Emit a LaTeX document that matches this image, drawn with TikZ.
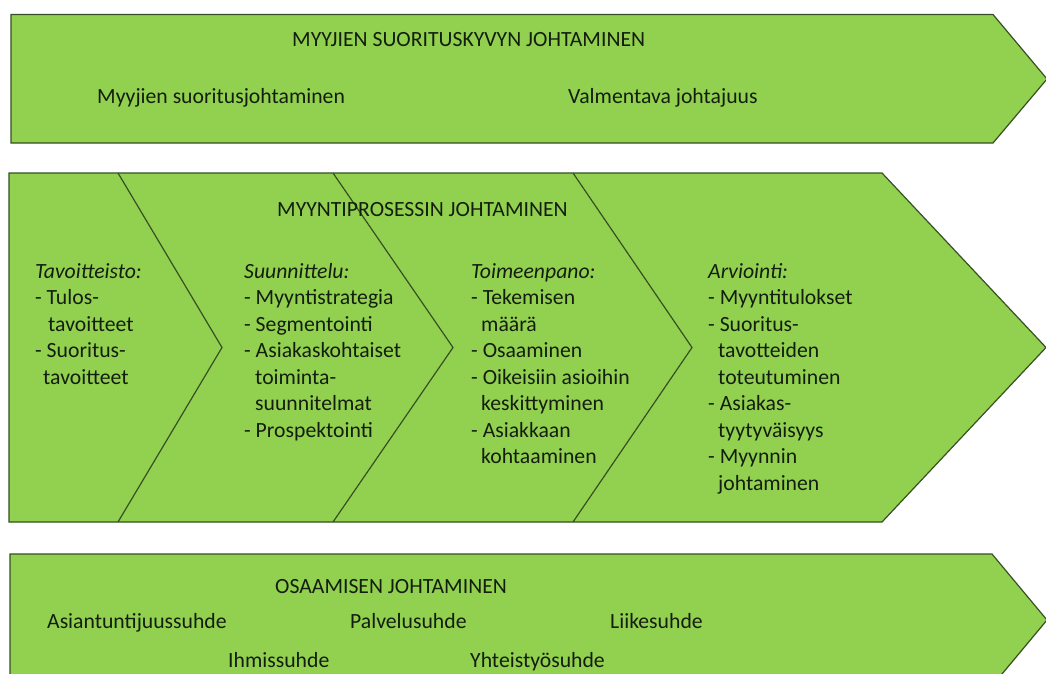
\documentclass[tikz,border=0pt]{standalone}
\usepackage{fontspec}
\setmainfont{Carlito}
\definecolor{shapegreen}{HTML}{92D050}
\definecolor{edgegreen}{RGB}{55,80,35}
\definecolor{txt}{RGB}{20,30,15}
\begin{document}
\begin{tikzpicture}[x=1pt,y=-1pt,
  band/.style={fill=shapegreen,draw=edgegreen,line width=1.2pt,line join=miter},
  divider/.style={draw=edgegreen,line width=1.2pt},
  lbl/.style={anchor=base west,inner sep=0pt,text=txt,font=\fontsize{21.7pt}{26.5pt}\selectfont},
  lst/.style={lbl,align=left}]
\useasboundingbox (0,0) rectangle (1046,674);
\clip (0,0) rectangle (1046,674);
\fill[white] (0,0) rectangle (1046,674);
% top band
\draw[band] (11,14.5) -- (993,14.5) -- (1047,79) -- (993,143) -- (11,143) -- cycle;
\node[lbl] (t1) at (292,47) {MYYJIEN SUORITUSKYVYN JOHTAMINEN};
\node[lbl] (t2) at (97,103) {Myyjien suoritusjohtaminen};
\node[lbl] (t3) at (568,103) {Valmentava johtajuus};
% middle band
\draw[band] (9,173) -- (882,173) -- (1046,347.5) -- (882,522) -- (9,522) -- cycle;
\draw[divider] (118,173) -- (222,347.5) -- (118,522);
\draw[divider] (333,173) -- (453,347.5) -- (333,522);
\draw[divider] (573,173) -- (692,347.5) -- (573,522);
\node[lbl] (m0) at (277,216) {MYYNTIPROSESSIN JOHTAMINEN};
% multi-line nodes: base anchor = baseline of the last line
\node[lst] (m1) at (35,384) {\textit{Tavoitteisto:}\\- Tulos-\\\hspace*{13pt}tavoitteet\\- Suoritus-\\\hspace*{8pt}tavoitteet};
\node[lst] (m2) at (244,437) {\textit{Suunnittelu:}\\- Myyntistrategia\\- Segmentointi\\- Asiakaskohtaiset\\\hspace*{11pt}toiminta-\\\hspace*{11pt}suunnitelmat\\- Prospektointi};
\node[lst] (m3) at (471,463.5) {\textit{Toimeenpano:}\\- Tekemisen\\\hspace*{10pt}määrä\\- Osaaminen\\- Oikeisiin asioihin\\\hspace*{10pt}keskittyminen\\- Asiakkaan\\\hspace*{10pt}kohtaaminen};
\node[lst] (m4) at (708,490) {\textit{Arviointi:}\\- Myyntitulokset\\- Suoritus-\\\hspace*{10pt}tavotteiden\\\hspace*{10pt}toteutuminen\\- Asiakas-\\\hspace*{10pt}tyytyväisyys\\- Myynnin\\\hspace*{10pt}johtaminen};
% bottom band
\draw[band] (10,554) -- (992,554) -- (1047,620) -- (992,686) -- (10,686) -- cycle;
\node[lbl] (b0) at (275,593) {OSAAMISEN JOHTAMINEN};
\node[lbl] (b1) at (47,628) {Asiantuntijuussuhde};
\node[lbl] (b2) at (350,628) {Palvelusuhde};
\node[lbl] (b3) at (610,628) {Liikesuhde};
\node[lbl] (b4) at (228,667) {Ihmissuhde};
\node[lbl] (b5) at (470,667) {Yhteistyösuhde};
\end{tikzpicture}
\end{document}
